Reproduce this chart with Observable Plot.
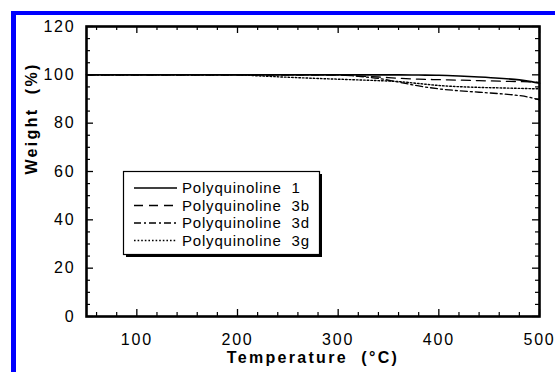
<!DOCTYPE html>
<html><head><meta charset="utf-8">
<script src="https://cdn.jsdelivr.net/npm/d3@7"></script>
<script src="https://cdn.jsdelivr.net/npm/@observablehq/plot@0.6"></script>
<style>
html,body{margin:0;padding:0;background:#fff;width:555px;height:372px;overflow:hidden}
#wrap{position:relative;width:555px;height:372px}
#chart{position:absolute;left:0;top:0}
#blue{position:absolute;left:11px;top:11px;width:600px;height:400px;border-left:5px solid #0000ff;border-top:4px solid #0000ff;pointer-events:none}
svg text{white-space:pre}
g[aria-label="x-axis tick label"] text{letter-spacing:1.8px}
g[aria-label="y-axis tick label"] text{letter-spacing:1.8px}
g[aria-label="text"] text{letter-spacing:2.3px}
</style></head><body><div id="wrap"><div id="chart"></div><div id="blue"></div></div>
<script>
const temperature = [50,100,150,200,220,250,280,300,320,340,360,380,400,420,440,460,480,490,500];
const poly1  = [100,100,100,100,100,100,100,100,100,100,100,99.9,99.8,99.5,99.1,98.6,97.9,97.3,96.5];
const poly3b = [100,100,100,100,100,100,100,99.9,99.5,99.1,98.6,98.2,98.0,97.8,97.6,97.4,97.2,97.1,96.9];
const poly3d = [100,100,100,100,100,100,100,100,99.4,98.5,97.0,95.4,94.2,93.4,92.8,92.2,91.4,90.7,89.6];
const poly3g = [100,100,100,100,99.6,99.0,98.5,98.2,97.9,97.6,97.2,96.4,95.6,95.1,94.8,94.6,94.4,94.3,94.2];
const seriesNames = ["Polyquinoline  1","Polyquinoline  3b","Polyquinoline  3d","Polyquinoline  3g"];
const seriesValues = [poly1, poly3b, poly3d, poly3g];
const xMajorTicks = [100,200,300,400,500];
const xMinorTicks = [60,80,120,140,160,180,220,240,260,280,320,340,360,380,420,440,460,480];
const yMajorTicks = [0,20,40,60,80,100,120];
const yMinorTicks = [5,10,15,25,30,35,45,50,55,65,70,75,85,90,95,105,110,115];
const xTitle = "Temperature  (°C)";
const yTitle = "Weight  (%)";

const W=555,H=372,ML=86,MR=16,MT=26,MB=56;
const PW=W-ML-MR, PH=H-MT-MB;
const dashes = [null, "9,6", "7,3,2,3", "1.6,2"];
const widths = [1.6, 1.3, 1.3, 1.4];

const data = [];
seriesNames.forEach((name,i)=>temperature.forEach((t,j)=>data.push({series:name, t, w: seriesValues[i][j]})));

const marks = [];
seriesNames.forEach((name,i)=>{
  marks.push(Plot.line(data.filter(d=>d.series===name), {x:"t", y:"w", stroke:"black", strokeWidth:widths[i], strokeDasharray:dashes[i], curve:"monotone-x"}));
});
// inward ticks on all four sides
marks.push(Plot.ruleX(xMajorTicks,{insetTop:PH-7, stroke:"black", strokeWidth:1.3}));
marks.push(Plot.ruleX(xMinorTicks,{insetTop:PH-4, stroke:"black", strokeWidth:1.2}));
marks.push(Plot.ruleX(xMajorTicks,{insetBottom:PH-7, stroke:"black", strokeWidth:1.3}));
marks.push(Plot.ruleX(xMinorTicks,{insetBottom:PH-4, stroke:"black", strokeWidth:1.2}));
marks.push(Plot.ruleY(yMajorTicks,{insetRight:PW-7, stroke:"black", strokeWidth:1.3}));
marks.push(Plot.ruleY(yMinorTicks,{insetRight:PW-4, stroke:"black", strokeWidth:1.2}));
marks.push(Plot.ruleY(yMajorTicks,{insetLeft:PW-7, stroke:"black", strokeWidth:1.3}));
marks.push(Plot.ruleY(yMinorTicks,{insetLeft:PW-4, stroke:"black", strokeWidth:1.2}));
marks.push(Plot.frame({stroke:"black", strokeWidth:2.6}));
marks.push(Plot.axisX(xMajorTicks,{tickSize:0, tickPadding:17, fontSize:16, label:null, fill:"black"}));
marks.push(Plot.axisY(yMajorTicks,{tickSize:0, tickPadding:11, fontSize:16, label:null, fill:"black"}));
marks.push(Plot.text([xTitle],{text:d=>d, frameAnchor:"bottom", dy:46, fontSize:16, fontWeight:"bold", fill:"black"}));
marks.push(Plot.text([yTitle],{text:d=>d, frameAnchor:"left", rotate:-90, dx:-55, dy:3, fontSize:16, fontWeight:"bold", fill:"black"}));

const plot = Plot.plot({
  width:W, height:H, marginLeft:ML, marginRight:MR, marginTop:MT, marginBottom:MB,
  x:{domain:[50,500], axis:null},
  y:{domain:[0,120], axis:null},
  style:{fontFamily:"'Liberation Sans', Arial, Helvetica, sans-serif", background:"transparent", color:"black"},
  marks
});
document.getElementById("chart").appendChild(plot);

// legend box with drop shadow
const svg = d3.select(plot);
const lg = svg.append("g").attr("aria-label","legend").attr("text-anchor","start");
lg.append("rect").attr("x",126).attr("y",174).attr("width",196).attr("height",83).attr("fill","black");
lg.append("rect").attr("x",123.5).attr("y",171.5).attr("width",196).attr("height",83).attr("fill","white").attr("stroke","black").attr("stroke-width",1.2);
const rowY = [188, 205.5, 223, 240.5];
seriesNames.forEach((name,i)=>{
  lg.append("line").attr("x1",134).attr("x2",177).attr("y1",rowY[i]).attr("y2",rowY[i])
    .attr("stroke","black").attr("stroke-width",widths[i]).attr("stroke-dasharray",dashes[i]);
  lg.append("text").attr("x",182).attr("y",rowY[i]).attr("dy","0.36em")
    .attr("text-anchor","start").attr("font-size",15).attr("letter-spacing","0.8px").attr("fill","black")
    .style("white-space","pre").text(name);
});
</script></body></html>
